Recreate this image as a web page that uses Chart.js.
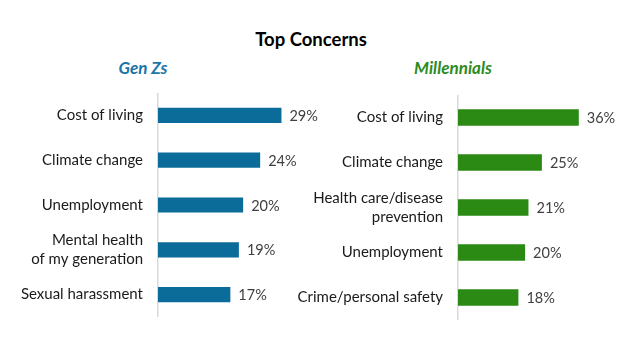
<!DOCTYPE html>
<html>
<head>
<meta charset="utf-8">
<script src="https://cdn.jsdelivr.net/npm/chart.js@4"></script>
<style>
  body { margin: 0; background: #fff; font-family: Lato, "Open Sans", sans-serif; overflow: hidden; }
  .wrap { position: relative; width: 628px; height: 339px; overflow: hidden; }
  .txt { position: absolute; white-space: nowrap; transform: translate(-50%, -50%); font-weight: bold; }
  #title { left: 311px; top: 39px; font-size: 18.5px; color: #000; }
  #genz { left: 143px; top: 67px; font-size: 17px; font-style: italic; color: #1a75a8; }
  #mill { left: 453px; top: 67px; font-size: 17px; font-style: italic; color: #2e8b1e; }
  .box { position: absolute; }
  #b1 { left: 0; top: 93px; width: 347px; height: 224px; }
  #b2 { left: 290px; top: 95px; width: 359px; height: 225px; }
</style>
</head>
<body>
<div class="wrap">
  <div class="txt" id="title">Top Concerns</div>
  <div class="txt" id="genz">Gen Zs</div>
  <div class="txt" id="mill">Millennials</div>
  <div class="box" id="b1"><canvas id="c1"></canvas></div>
  <div class="box" id="b2"><canvas id="c2"></canvas></div>
</div>
<script>
const genZLabels = ['Cost of living', 'Climate change', 'Unemployment', ['Mental health', 'of my generation'], 'Sexual harassment']
const genZValues = [29, 24, 20, 19, 17]

const millLabels = ['Cost of living', 'Climate change', ['Health care/disease', 'prevention'], 'Unemployment', 'Crime/personal safety']
const millValues = [36, 25, 21, 20, 18]

// draws "29%" next to each bar
const valueLabels = {
    id: 'valueLabels',
    afterDatasetsDraw(chart) {
        const c = chart.ctx
        const meta = chart.getDatasetMeta(0)
        c.save()
        c.font = '14.5px Lato, "Open Sans", sans-serif'
        c.fillStyle = '#404040'
        c.textAlign = 'left'
        c.textBaseline = 'middle'
        meta.data.forEach((bar, i) => {
            c.fillText(chart.data.datasets[0].data[i] + '%', bar.x + 8, bar.y + 1)
        })
        c.restore()
    }
}

function makeChart(id, labels, values, color, axisWidth, xMax, barPct) {
    return new Chart(document.getElementById(id), {
        type: 'bar',
        data: {
            labels: labels,
            datasets: [{
                data: values,
                backgroundColor: color,
                barPercentage: barPct,
                categoryPercentage: 1
            }]
        },
        options: {
            indexAxis: 'y',
            responsive: true,
            maintainAspectRatio: false,
            animation: false,
            layout: { padding: { left: 0, top: 0, bottom: 0, right: 40 } },
            plugins: {
                legend: { display: false },
                tooltip: { enabled: false }
            },
            scales: {
                x: {
                    display: false,
                    min: 0,
                    max: xMax
                },
                y: {
                    afterFit: s => {
                        s.width = axisWidth
                        // no extra room above/below for the tick labels
                        s.paddingTop = 0
                        s.paddingBottom = 0
                    },
                    grid: { display: false, drawTicks: false },
                    border: { display: true, color: '#d9d9d9', width: 1.5 },
                    ticks: {
                        color: '#1a1a1a',
                        padding: 15,
                        font: { family: 'Lato, "Open Sans", sans-serif', size: 15, lineHeight: 1.27 }
                    }
                }
            }
        },
        plugins: [valueLabels]
    })
}

makeChart('c1', genZLabels, genZValues, '#0b6c99', 158, 35, 0.34)
makeChart('c2', millLabels, millValues, '#2a8a14', 168, 45, 0.37)
</script>
</body>
</html>
